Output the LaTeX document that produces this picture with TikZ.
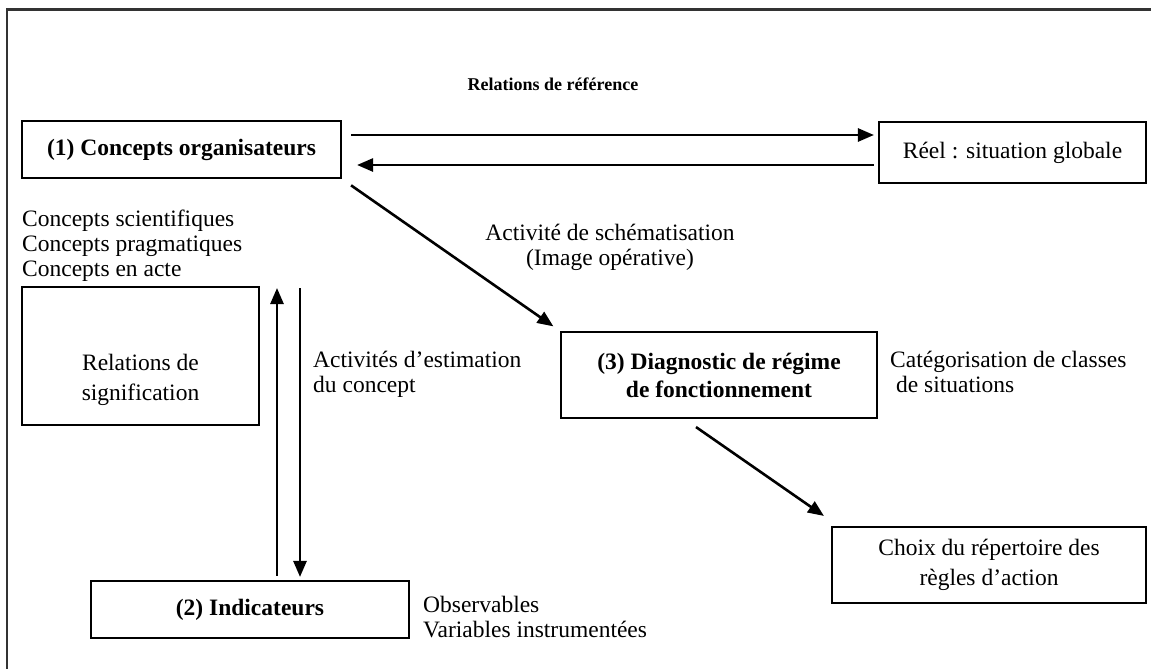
\documentclass[tikz,border=0pt]{standalone}
\usepackage{fontspec}
\setmainfont{Liberation Serif}
\usetikzlibrary{arrows.meta}
\begin{document}
\begin{tikzpicture}[x=1pt,y=-1pt,
  box/.style={draw, line width=2.1pt, inner sep=0pt, align=center,
    font=\fontsize{23.5}{30}\selectfont},
  boldbox/.style={box, font=\fontsize{23.5}{28}\selectfont\bfseries},
  txt/.style={inner sep=0pt, font=\fontsize{23.5}{25}\selectfont},
  arr/.style={line width=2.6pt, -{Triangle[length=16pt,width=13pt]}},
  frame/.style={line width=2.4pt, draw=black!80}]
\useasboundingbox (0,0) rectangle (1151,669);

% page frame (top and left edges)
\draw[frame] (7,669) -- (7,9.5) -- (1151,9.5);

% title
\node[txt, anchor=base, font=\fontsize{18}{22}\selectfont\bfseries] (title) at (553,91) {Relations de référence};

% boxes
\node[boldbox, minimum width=319pt, minimum height=57pt] (org) at (181.5,149.5) {(1) Concepts organisateurs};
\node[box, minimum width=267pt, minimum height=61pt] (reel) at (1012.5,152.5) {Réel : situation globale};
\node[boldbox, minimum width=316pt, minimum height=86pt] (diag) at (719,375) {(3) Diagnostic de régime\\de fonctionnement};
\node[box, minimum width=237pt, minimum height=138pt] (signif) at (140.5,356)
  {\raisebox{-23pt}[\height][\depth]{\begin{tabular}{@{}c@{}}Relations de\\signification\end{tabular}}};
\node[boldbox, minimum width=318pt, minimum height=57pt] (ind) at (250,609.5) {(2) Indicateurs};
\node[box, minimum width=314pt, minimum height=76pt] (choix) at (989,565) {Choix du répertoire des\\règles d’action};

% free texts
\node[txt, anchor=base west] (concepts) at (22,226.7)
  {\begin{tabular}[t]{@{}l@{}}Concepts scientifiques\\Concepts pragmatiques\\Concepts en acte\end{tabular}};
\node[txt, anchor=base] (schem) at (610,240)
  {\begin{tabular}[t]{@{}c@{}}Activité de schématisation\\(Image opérative)\end{tabular}};
\node[txt, anchor=base west] (estim) at (313,367)
  {\begin{tabular}[t]{@{}l@{}}Activités d’estimation\\du concept\end{tabular}};
\node[txt, anchor=base west] (categ) at (890,367)
  {\begin{tabular}[t]{@{}l@{}}Catégorisation de classes\\\hspace{6pt}de situations\end{tabular}};
\node[txt, anchor=base west] (obs) at (423,612)
  {\begin{tabular}[t]{@{}l@{}}Observables\\Variables instrumentées\end{tabular}};

% connectors
\draw[arr, shorten <=9pt, shorten >=4pt] (org.east |- 0,135) -- (reel.west |- 0,135);
\draw[arr, shorten <=4pt, shorten >=15pt] (reel.west |- 0,165) -- (org.east |- 0,165);
\draw[arr, shorten <=11pt, shorten >=8pt] (org.south east) -- (diag.north west);
\draw[arr] ([shift={(-23,8)}]diag.south) -- ([shift={(-7,-10)}]choix.north west);

\coordinate (upTip) at (277,288);
\coordinate (downTail) at (300,288);
\draw[arr, shorten <=4pt] (ind.north -| upTip) -- (upTip);
\draw[arr, shorten >=3pt] (downTail) -- (ind.north -| downTail);
\end{tikzpicture}
\end{document}
